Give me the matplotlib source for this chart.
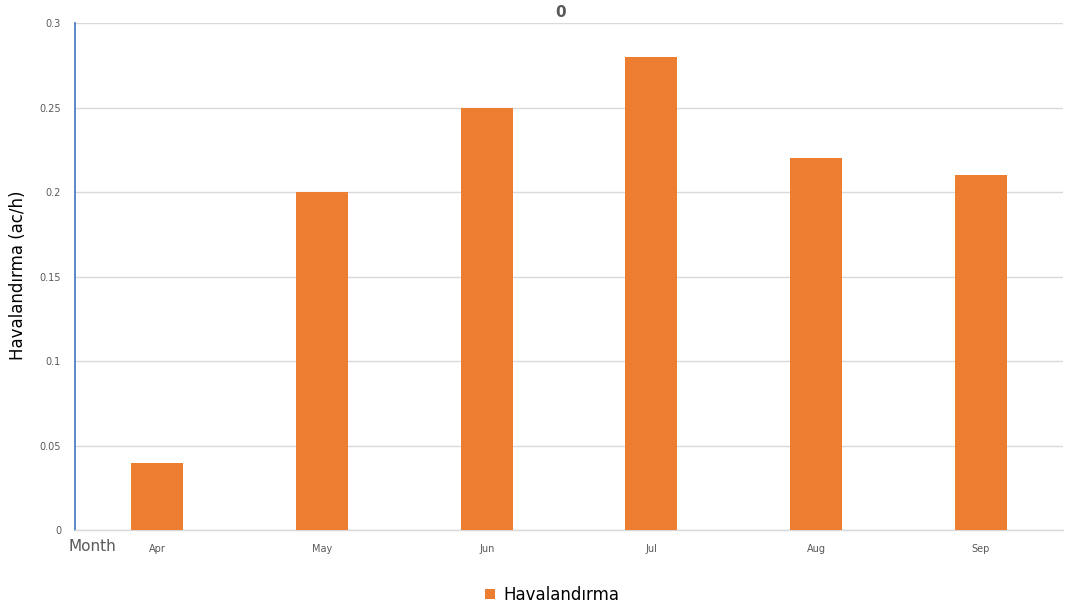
import matplotlib.pyplot as plt
from matplotlib.ticker import FixedLocator
import numpy as np

months = ["Apr", "May", "Jun", "Jul", "Aug", "Sep"]
ventilation = [0.04, 0.20, 0.25, 0.28, 0.22, 0.21]
y_ticks = [0, 0.05, 0.1, 0.15, 0.2, 0.25, 0.3]
y_tick_labels = ["0", "0.05", "0.1", "0.15", "0.2", "0.25", "0.3"]

fig = plt.figure(figsize=(10.67, 6.15), dpi=100)
ax = fig.add_axes([0.0703, 0.138, 0.926, 0.8246])

x = np.arange(len(months))
ax.bar(x, ventilation, width=0.315, color="#ED7D31", label="Havalandırma", zorder=3)

ax.set_xlim(-0.5, len(months) - 0.5)
ax.set_ylim(0, 0.3)
ax.yaxis.set_major_locator(FixedLocator(y_ticks))
ax.set_yticklabels(y_tick_labels)
ax.set_xticks(x)
ax.set_xticklabels(months)
ax.tick_params(axis="both", length=0, labelsize=7, colors="#595959")
ax.tick_params(axis="y", pad=10)
ax.tick_params(axis="x", pad=10)

ax.grid(axis="y", color="#D9D9D9", linewidth=1, zorder=0)
for side in ["top", "right"]:
    ax.spines[side].set_visible(False)
ax.spines["left"].set_color("#4472C4")
ax.spines["left"].set_linewidth(1.2)
ax.spines["bottom"].set_color("#D9D9D9")
ax.spines["bottom"].set_linewidth(1)

# axis captions placed on the figure so they stay inside the canvas
fig.text(0.017, 0.553, "Havalandırma (ac/h)", fontsize=12, color="black",
         rotation=90, ha="center", va="center")
ax.set_title("0", x=0.491, fontsize=11, color="#595959", fontweight="bold", pad=4)
fig.text(0.064, 0.112, "Month", fontsize=11, color="#595959", ha="left", va="center")

ax.legend(loc="upper center", bbox_to_anchor=(0.483, -0.08), frameon=False,
          fontsize=12, handlelength=0.6, handleheight=0.6, handletextpad=0.5)

fig.savefig("out.png", dpi=100, facecolor="white")
